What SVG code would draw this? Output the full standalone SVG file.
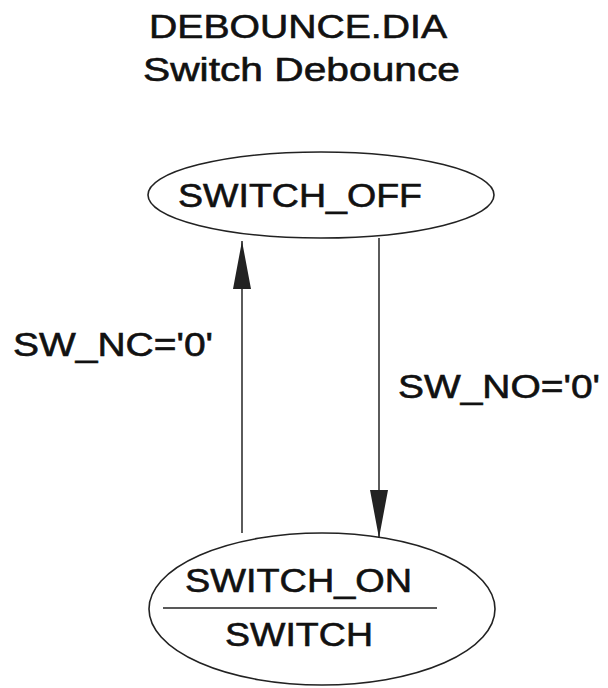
<svg xmlns="http://www.w3.org/2000/svg" width="608" height="688" viewBox="0 0 608 688">
<style>
text{font-family:"Liberation Sans",Arial,sans-serif;font-size:33px;fill:#111;stroke:#111;stroke-width:0.6;}
.st{fill:none;stroke:#222;stroke-width:1.6;}
.ln{fill:none;stroke:#333;stroke-width:1.6;}
</style>
<defs>
<marker id="ah" viewBox="0 0 48 18" refX="48" refY="9" markerWidth="48" markerHeight="18" markerUnits="userSpaceOnUse" orient="auto">
<path d="M48,9 L0,0 L0,18 Z" fill="#222"/>
</marker>
</defs>
<rect width="608" height="688" fill="#fff"/>
<g id="title">
<text x="149" y="38" textLength="298" lengthAdjust="spacingAndGlyphs">DEBOUNCE.DIA</text>
<text x="143" y="81" textLength="317" lengthAdjust="spacingAndGlyphs">Switch Debounce</text>
</g>
<g id="connectors">
<line class="ln" x1="379" y1="238" x2="379" y2="538" marker-end="url(#ah)"/>
<line class="ln" x1="242" y1="533" x2="242" y2="241" marker-end="url(#ah)"/>
<text x="13" y="356" textLength="200" lengthAdjust="spacingAndGlyphs">SW_NC='0'</text>
<text x="398" y="398" textLength="202" lengthAdjust="spacingAndGlyphs">SW_NO='0'</text>
</g>
<g id="switch_off">
<ellipse class="st" cx="321" cy="195" rx="173" ry="43"/>
<text x="178" y="207" textLength="244" lengthAdjust="spacingAndGlyphs">SWITCH_OFF</text>
</g>
<g id="switch_on">
<ellipse class="st" cx="322" cy="609" rx="173" ry="76"/>
<text x="185" y="592" textLength="227" lengthAdjust="spacingAndGlyphs">SWITCH_ON</text>
<line class="st" x1="163" y1="608" x2="437" y2="608"/>
<text x="225" y="646" textLength="148" lengthAdjust="spacingAndGlyphs">SWITCH</text>
</g>
</svg>
